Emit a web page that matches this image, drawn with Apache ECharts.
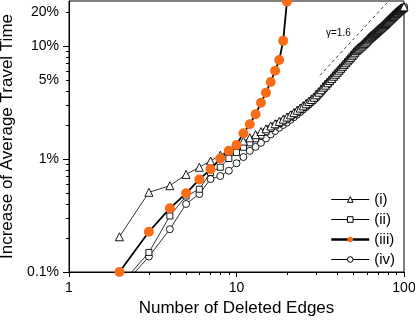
<!DOCTYPE html>
<html>
<head>
<meta charset="utf-8">
<script src="https://cdn.jsdelivr.net/npm/echarts@6/dist/echarts.min.js"></script>
<style>
html, body { margin: 0; padding: 0; background: #fff; }
#mycharts { width: 415px; height: 320px; }
</style>
</head>
<body>
<div id="mycharts"></div>
<script>
// number of deleted edges
var edges = [2, 3, 4, 5, 6, 7, 8, 9, 10, 11, 12, 13, 14, 15, 16, 17, 18, 19, 20,
	21, 22, 23, 24, 25, 26, 27, 28, 29, 30, 31, 32, 33, 34, 35, 36, 37, 38, 39, 40,
	41, 42, 43, 44, 45, 46, 47, 48, 49, 50, 51, 52, 53, 54, 55, 56, 57, 58, 59, 60,
	61, 62, 63, 64, 65, 66, 67, 68, 69, 70, 71, 72, 73, 74, 75, 76, 77, 78, 79, 80,
	81, 82, 83, 84, 85, 86, 87, 88, 89, 90, 91, 92, 93, 94, 95, 96, 97, 98, 99, 100];
var edgesIII = [2, 3, 4, 5, 6, 7, 8, 9, 10, 11, 12, 13, 14, 15, 16, 17, 18, 19, 20];

// increase of average travel time, in %
var valuesI = [0.205, 0.507, 0.58, 0.73, 0.845, 0.96, 1.08, 1.2, 1.33, 1.44, 1.54, 1.64, 1.75, 1.85, 1.96, 2.05, 2.15, 2.25, 2.35,
	2.46, 2.57, 2.70, 2.82, 2.95, 3.08, 3.22, 3.36, 3.52, 3.70, 3.90, 4.10, 4.32, 4.50, 4.72, 4.95, 5.15, 5.40, 5.62, 5.85,
	6.10, 6.35, 6.60, 6.85, 7.10, 7.38, 7.65, 7.90, 8.20, 8.50, 8.80, 9.10, 9.35, 9.55, 9.80, 10.0, 10.25, 10.5, 10.8, 11.05,
	11.35, 11.6, 11.9, 12.15, 12.4, 12.65, 12.9, 13.15, 13.4, 13.7, 13.95, 14.2, 14.45, 14.7, 14.95, 15.25, 15.5, 15.8, 16.1, 16.4,
	16.7, 17.0, 17.3, 17.6, 17.9, 18.2, 18.5, 18.8, 19.1, 19.4, 19.7, 20.0, 20.3, 20.6, 20.9, 21.15, 21.4, 21.65, 21.9, 22.2];
var valuesII = [0.075, 0.149, 0.313, 0.47, 0.54, 0.76, 0.845, 1.01, 1.14, 1.27, 1.39, 1.51, 1.62, 1.74, 1.86, 1.96, 2.06, 2.16, 2.26,
	2.37, 2.48, 2.60, 2.73, 2.86, 3.00, 3.14, 3.28, 3.44, 3.60, 3.80, 4.00, 4.22, 4.44, 4.65, 4.86, 5.08, 5.30, 5.55, 5.78,
	6.00, 6.25, 6.50, 6.75, 7.00, 7.28, 7.55, 7.82, 8.10, 8.40, 8.70, 9.00, 9.25, 9.45, 9.70, 9.92, 10.15, 10.4, 10.65, 10.95,
	11.2, 11.5, 11.8, 12.05, 12.3, 12.55, 12.8, 13.05, 13.3, 13.6, 13.85, 14.1, 14.35, 14.6, 14.9, 15.15, 15.4, 15.7, 16.0, 16.3,
	16.6, 16.9, 17.2, 17.5, 17.8, 18.1, 18.4, 18.7, 19.0, 19.3, 19.6, 19.9, 20.2, 20.5, 20.8, 21.05, 21.3, 21.55, 21.8, 22.1];
var valuesIII = [0.1, 0.227, 0.366, 0.497, 0.66, 0.81, 1.01, 1.18, 1.33, 1.69, 2.03, 2.49, 3.15, 3.86, 4.8, 6.04, 7.52, 11.1, 24.7];
var valuesIV = [0.07, 0.137, 0.239, 0.40, 0.49, 0.665, 0.707, 0.787, 0.916, 1.04, 1.18, 1.28, 1.39, 1.52, 1.65, 1.77, 1.89, 2.00, 2.10,
	2.22, 2.34, 2.47, 2.60, 2.74, 2.88, 3.02, 3.17, 3.32, 3.48, 3.68, 3.88, 4.10, 4.32, 4.54, 4.76, 4.98, 5.20, 5.44, 5.68,
	5.92, 6.16, 6.42, 6.68, 6.94, 7.20, 7.46, 7.74, 8.02, 8.32, 8.62, 8.92, 9.15, 9.38, 9.60, 9.85, 10.08, 10.3, 10.58, 10.85,
	11.12, 11.4, 11.7, 11.95, 12.2, 12.45, 12.7, 12.95, 13.2, 13.5, 13.75, 14.0, 14.25, 14.5, 14.8, 15.05, 15.3, 15.6, 15.9, 16.2,
	16.5, 16.8, 17.1, 17.4, 17.7, 18.0, 18.3, 18.6, 18.9, 19.2, 19.5, 19.8, 20.1, 20.4, 20.7, 20.95, 21.2, 21.45, 21.7, 22.0];

// reference slope gamma = 1.6
var gammaX = [31.5, 100];
var gammaY = [5.5, 35];

// ticks and labels
var xLabels = [1, 10, 100];
var xMinorTicks = [2, 3, 4, 5, 6, 7, 8, 9, 20, 30, 40, 50, 60, 70, 80, 90];
var yLabels = [0.1, 1, 5, 10, 20];
var yMajorTicks = [0.1, 1, 10];
var yMinorTicks = [0.2, 0.3, 0.4, 0.5, 0.6, 0.7, 0.8, 0.9, 2, 3, 4, 5, 6, 7, 8, 9, 20];

var FONT = 'Liberation Sans';

function pairs(xs, ys) {
	return xs.map(function(x, i) {
		return [x, ys[i]];
	});
}

var myChart = echarts.init(document.getElementById('mycharts'));
myChart.setOption({
	animation : false,
	grid : {
		left : 69,
		right : 11,
		top : 1,
		bottom : 48,
		outerBoundsMode : 'none',
		show : true,
		borderColor : '#000',
		borderWidth : 1
	},
	legend : {
		orient : 'vertical',
		left : 325,
		top : 187,
		itemWidth : 38,
		itemHeight : 7,
		itemGap : 5,
		textStyle : {
			fontFamily : FONT,
			fontSize : 15,
			color : '#000'
		},
		data : [
			{ name : '(i)', lineStyle : { width : 1 }, itemStyle : { borderWidth : 1 } },
			{ name : '(ii)', lineStyle : { width : 1 }, itemStyle : { borderWidth : 1 } },
			{ name : '(iii)', lineStyle : { width : 2.5 } },
			{ name : '(iv)', lineStyle : { width : 1 }, itemStyle : { borderWidth : 1 } }
		]
	},
	xAxis : [ {
		type : 'log',
		logBase : 10,
		min : 1,
		max : 100,
		name : 'Number of Deleted Edges',
		nameLocation : 'middle',
		nameGap : 27,
		nameTextStyle : {
			fontFamily : FONT,
			fontSize : 17,
			color : '#000'
		},
		axisLine : { lineStyle : { color : '#000', width : 1 } },
		axisTick : { customValues : xLabels, length : 5, lineStyle : { color : '#000' } },
		axisLabel : {
			customValues : xLabels,
			margin : 9,
			fontFamily : FONT,
			fontSize : 14,
			color : '#000'
		},
		splitLine : { show : false }
	}, {
		type : 'log',
		logBase : 10,
		min : 1,
		max : 100,
		position : 'bottom',
		offset : 0,
		axisLine : { show : false },
		axisTick : { customValues : xMinorTicks, length : 3, lineStyle : { color : '#000' } },
		axisLabel : { show : false },
		splitLine : { show : false }
	} ],
	yAxis : [ {
		type : 'log',
		logBase : 10,
		min : 0.1,
		max : 25,
		name : 'Increase of Average Travel Time',
		nameLocation : 'middle',
		nameGap : 47,
		nameTextStyle : {
			fontFamily : FONT,
			fontSize : 17,
			color : '#000'
		},
		axisLine : { lineStyle : { color : '#000', width : 1 } },
		axisTick : { customValues : yMajorTicks, length : 6, lineStyle : { color : '#000' } },
		axisLabel : {
			customValues : yLabels,
			margin : 10,
			fontFamily : FONT,
			fontSize : 14,
			color : '#000',
			formatter : function(v) {
				return v + '%';
			}
		},
		splitLine : { show : false }
	}, {
		type : 'log',
		logBase : 10,
		min : 0.1,
		max : 25,
		position : 'left',
		offset : 0,
		axisLine : { show : false },
		axisTick : { customValues : yMinorTicks, length : 3, lineStyle : { color : '#000' } },
		axisLabel : { show : false },
		splitLine : { show : false }
	} ],
	graphic : [ {
		type : 'text',
		left : 326,
		top : 28,
		style : {
			text : 'γ=1.6',
			fontFamily : FONT,
			fontSize : 10,
			fill : '#000'
		}
	} ],
	series : [ {
		name : 'gamma',
		type : 'line',
		data : pairs(gammaX, gammaY),
		symbol : 'none',
		silent : true,
		clip : true,
		lineStyle : { color : '#000', width : 0.8, type : [ 3, 3 ] },
		z : 1
	}, {
		name : '(iv)',
		type : 'line',
		data : pairs(edges, valuesIV),
		symbol : 'circle',
		symbolSize : 7,
		clip : true,
		lineStyle : { color : '#000', width : 0.8 },
		itemStyle : { color : '#fff', borderColor : '#000', borderWidth : 0.9 },
		z : 2
	}, {
		name : '(ii)',
		type : 'line',
		data : pairs(edges, valuesII),
		symbol : 'rect',
		symbolSize : 6,
		clip : true,
		lineStyle : { color : '#000', width : 0.8 },
		itemStyle : { color : '#fff', borderColor : '#000', borderWidth : 0.9 },
		z : 3
	}, {
		name : '(i)',
		type : 'line',
		data : pairs(edges, valuesI),
		symbol : 'triangle',
		symbolSize : 8,
		clip : true,
		lineStyle : { color : '#000', width : 0.8 },
		itemStyle : { color : '#fff', borderColor : '#000', borderWidth : 0.9 },
		z : 4
	}, {
		name : '(iii)',
		type : 'line',
		data : pairs(edgesIII, valuesIII),
		symbol : 'circle',
		symbolSize : 10,
		clip : true,
		lineStyle : { color : '#000', width : 1.8 },
		itemStyle : { color : '#f96d17', borderWidth : 0 },
		z : 5
	} ]
});
</script>
</body>
</html>
